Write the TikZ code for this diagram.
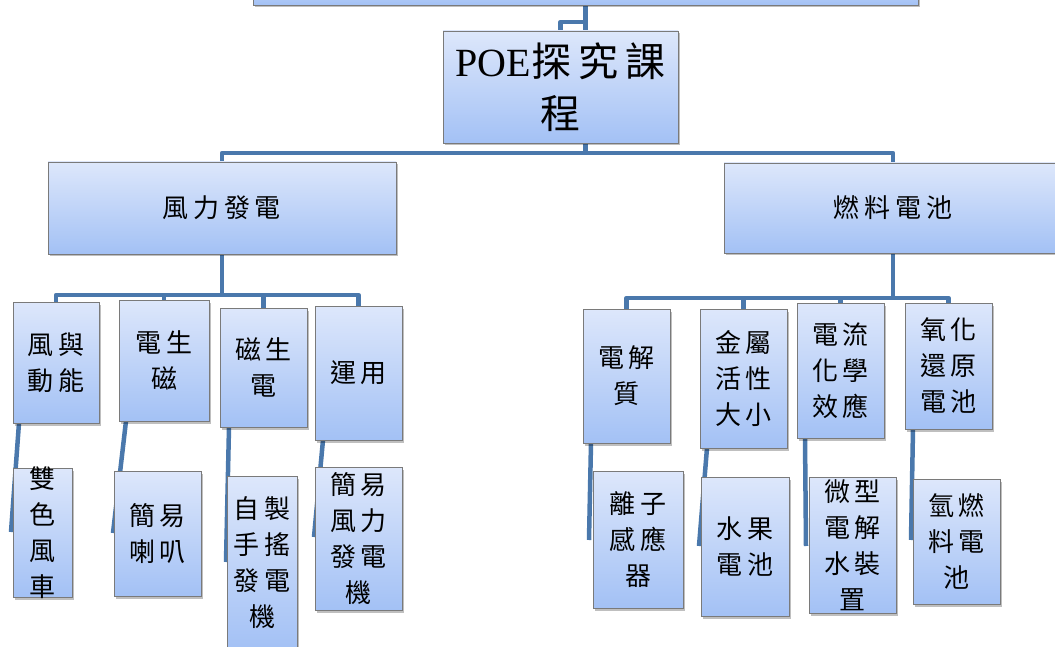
\documentclass[tikz,border=0pt]{standalone}
\usepackage{fontspec}
\setmainfont{Liberation Serif}
\newfontfamily\cjk{Noto Sans CJK TC}[LetterSpace=18]
\usetikzlibrary{shadows,calc}
\pgfdeclarelayer{bg}
\pgfsetlayers{bg,main}
\definecolor{conncol}{HTML}{4A78AC}
\definecolor{boxtop}{HTML}{DDE7FB}
\definecolor{boxbot}{HTML}{A3C1F5}
\definecolor{boxline}{HTML}{7A7A7A}
\tikzset{
  box/.style={draw=boxline, line width=0.9pt, top color=boxtop, bottom color=boxbot,
    inner sep=0pt, outer sep=0pt,
    drop shadow={shadow xshift=2pt, shadow yshift=-2.5pt, fill=black, opacity=0.25}},
  txt/.style={align=center, inner sep=0pt, font=\cjk\fontsize{26}{36}\selectfont},
  conn/.style={draw=conncol, line width=4.5pt, line join=round, line cap=butt},
}
\newcommand\bx[6]{\node[box, minimum width={#4-#2}, minimum height={#5-#3},
  label={[txt]center:#6}] (#1) at ({(#2+#4)/2},{(#3+#5)/2}) {};}
\begin{document}
\begin{tikzpicture}[x=1pt,y=-1pt]
\useasboundingbox (0,0) rectangle (1055,647);
\begin{pgfonlayer}{bg}
\fill[white] (0,0) rectangle (1055,647);
\end{pgfonlayer}
% top (cut off)
\node[box, minimum width=665, minimum height=40] (top) at (585.5,-15) {};
% POE
\node[box, minimum width=235, minimum height=112,
  label={[align=center, inner sep=0pt, font=\fontsize{40}{52}\selectfont]center:POE{\cjk 探究課}\\{\cjk 程}}] (poe) at (560.5,87) {};
% level 1
\bx{wind}{48}{162}{396}{254}{風力發電}
\bx{fuel}{724}{163}{1062}{253}{燃料電池}
% level 2 left
\bx{a1}{13}{302}{99}{423}{風與\\動能}
\bx{a2}{119}{300}{209}{421}{電生\\磁}
\bx{a3}{220}{308}{307}{427}{磁生\\電}
\bx{a4}{315}{306}{402}{440}{運用}
% level 2 right
\bx{b1}{583}{309}{670}{443}{電解\\質}
\bx{b2}{700}{309}{787}{448}{金屬\\活性\\大小}
\bx{b3}{797}{303}{884}{438}{電流\\化學\\效應}
\bx{b4}{905}{303}{992}{429}{氧化\\還原\\電池}
% level 3 left
\bx{c1}{13}{468}{72}{597}{雙\\色\\風\\車}
\bx{c2}{114}{471}{201}{596}{簡易\\喇叭}
\bx{c3}{227}{476}{297}{650}{自製\\手搖\\發電\\機}
\bx{c4}{315}{467}{402}{610}{簡易\\風力\\發電\\機}
% level 3 right
\bx{d1}{593}{471}{683}{608}{離子\\感應\\器}
\bx{d2}{701}{477}{789}{616}{水果\\電池}
\bx{d3}{809}{477}{896}{613}{微型\\電解\\水裝\\置}
\bx{d4}{913}{479}{1000}{604}{氫燃\\料電\\池}
% connectors
\begin{pgfonlayer}{bg}
\draw[conn] (top.south) -- (top.south |- poe.north);
\draw[conn] (top.south) ++(0,17) -| (poe.north);
\draw[conn] (poe.south -| top.south) -- ++(0,10) coordinate (j1) -| (wind.north);
\draw[conn] (j1) -| (fuel.north);
\draw[conn] (wind.south) -- ++(0,41) coordinate (j2) -| (a1.north);
\draw[conn] (j2) -| (a2.north);
\draw[conn] (j2) -| (a3.north);
\draw[conn] (j2) -| (a4.north);
\draw[conn] (fuel.south) -- ++(0,45) coordinate (j3) -| (b1.north);
\draw[conn] (j3) -| (b2.north);
\draw[conn] (j3) -| (b3.north);
\draw[conn] (j3) -| (b4.north);
\draw[conn] ($(a1.south west)+(6,0)$) -- ($(c1.north west)+(-2,64)$);
\draw[conn] ($(a2.south west)+(7,0)$) -- ($(c2.north west)+(-1,62)$);
\draw[conn] ($(a3.south west)+(9,0)$) -- ($(c3.north west)+(-1,86)$);
\draw[conn] ($(a4.south west)+(8,0)$) -- ($(c4.north west)+(-1,70)$);
\draw[conn] ($(b1.south west)+(8,0)$) -- ($(d1.north west)+(-4,69)$);
\draw[conn] ($(b2.south west)+(7,0)$) -- ($(d2.north west)+(-2,69)$);
\draw[conn] ($(b3.south west)+(8,0)$) -- ($(d3.north west)+(-3,69)$);
\draw[conn] ($(b4.south west)+(8,0)$) -- ($(d4.north west)+(-2,61)$);
\end{pgfonlayer}
\end{tikzpicture}
\end{document}
